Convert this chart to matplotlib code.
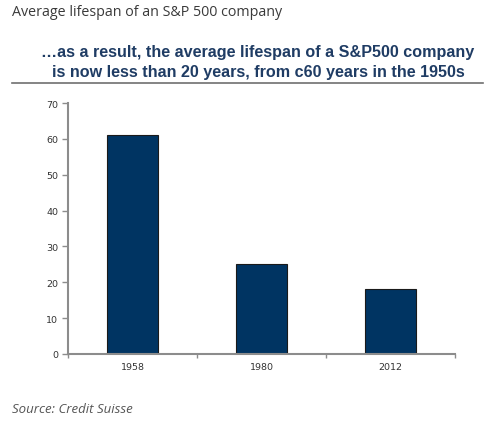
import matplotlib.pyplot as plt
from matplotlib.lines import Line2D

# Data
years = ['1958', '1980', '2012']
lifespan = [61, 25, 18]
y_ticks = [0, 10, 20, 30, 40, 50, 60, 70]

fig = plt.figure(figsize=(5.04, 4.27), dpi=100)

# Header texts
fig.text(12 / 504, 1 - 13 / 427, 'Average lifespan of an S&P 500 company',
         family='Open Sans', fontsize=10.3, color='#3a3a3a', va='center', ha='left')
fig.text(258 / 504, 1 - 53 / 427,
         '\u2026as a result, the average lifespan of a S&P500 company',
         family='Liberation Sans', fontsize=11.6, fontweight='bold', color='#1f3c64',
         va='center', ha='center')
fig.text(258 / 504, 1 - 73 / 427,
         'is now less than 20 years, from c60 years in the 1950s',
         family='Liberation Sans', fontsize=11.6, fontweight='bold', color='#1f3c64',
         va='center', ha='center')
fig.add_artist(Line2D([12 / 504, 483 / 504], [1 - 84 / 427, 1 - 84 / 427],
                      color='#707070', linewidth=1.2))

fig.text(12 / 504, 1 - 410 / 427, 'Source: Credit Suisse',
         family='Open Sans', fontsize=9.5, style='italic', color='#555555',
         va='center', ha='left')

# Chart
ax = fig.add_axes([68 / 504, 72 / 427, 387 / 504, 251 / 427])
x = range(len(years))
ax.bar(x, lifespan, width=0.4, color='#003462', edgecolor='#1a1a1a', linewidth=0.8)

ax.set_xlim(-0.5, 2.5)
ax.set_ylim(0, 70)
ax.set_yticks(y_ticks)
ax.set_xticks([-0.5, 0.5, 1.5, 2.5])
ax.set_xticklabels([])
ax.set_xticks(list(x), minor=True)
ax.set_xticklabels(years, minor=True)

for s in ['top', 'right']:
    ax.spines[s].set_visible(False)
for s in ['left', 'bottom']:
    ax.spines[s].set_color('#8c8c8c')
    ax.spines[s].set_linewidth(1.5)

ax.tick_params(axis='y', length=4, width=1, color='#8c8c8c', labelsize=6.8,
               labelcolor='#333333', labelfontfamily='DejaVu Sans', pad=3)
ax.tick_params(axis='x', which='major', length=3, width=1, color='#8c8c8c', direction='out')
ax.tick_params(axis='x', which='minor', length=0, labelsize=6.8, labelcolor='#333333',
               labelfontfamily='DejaVu Sans', pad=6)

plt.savefig('out.png', dpi=100)
